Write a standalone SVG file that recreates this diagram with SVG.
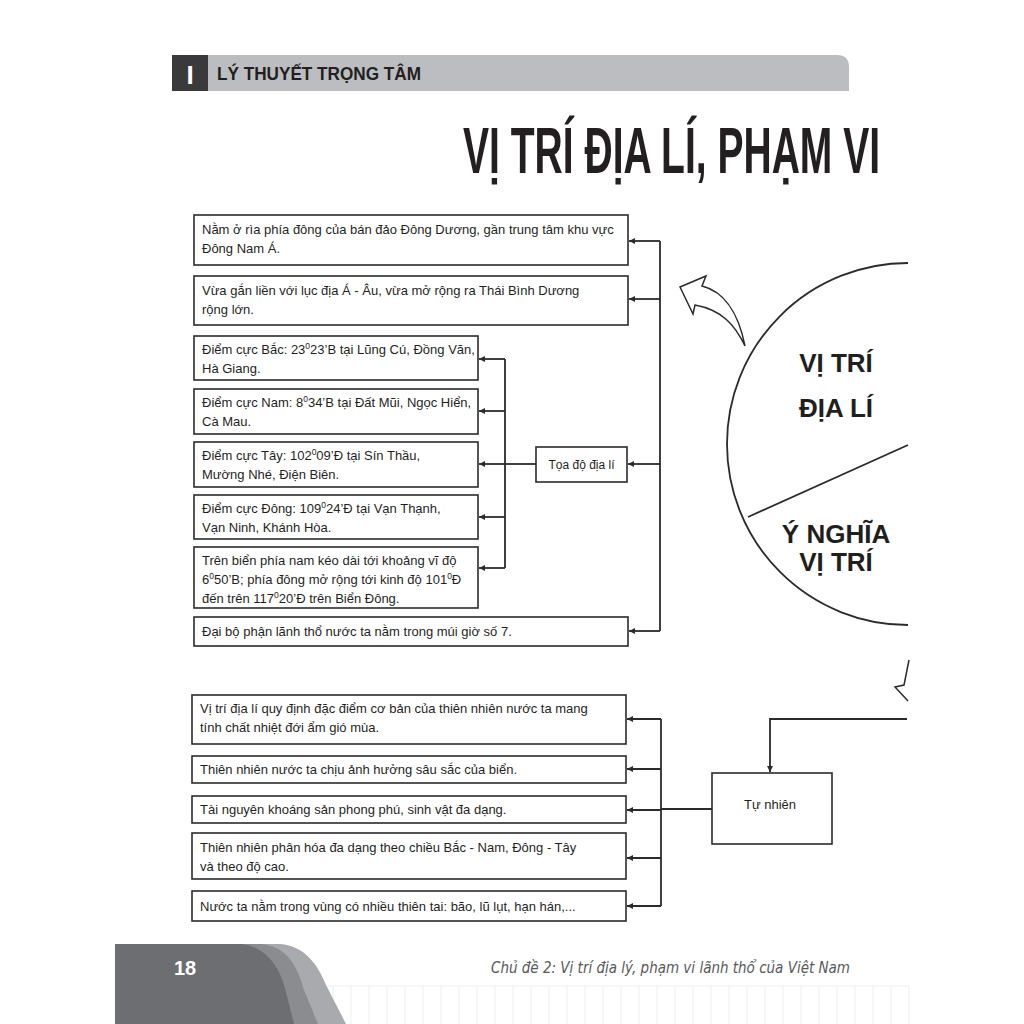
<svg xmlns="http://www.w3.org/2000/svg" width="1024" height="1024" viewBox="0 0 1024 1024">
<defs>
<style>
.box{fill:#fff;stroke:#2b2b2b;stroke-width:1.6}
.t{font-family:"Liberation Sans",Arial,sans-serif;font-size:13px;fill:#1f1f1f}
.c{fill:none;stroke:#2b2b2b;stroke-width:1.8}
.a{fill:none;stroke:#2b2b2b;stroke-width:1.8;marker-end:url(#ah)}
.big{font-family:"Liberation Sans",Arial,sans-serif;font-weight:bold;font-size:26px;fill:#1f1f1f;text-anchor:middle}
.sup{font-size:8.5px}
.grid{stroke:#efefef;stroke-width:1}
</style>
<marker id="ah" markerUnits="userSpaceOnUse" markerWidth="7" markerHeight="7" refX="6" refY="3" orient="auto">
<path d="M0,0 L6,3 L0,6 Z" fill="#2b2b2b"/>
</marker>
<pattern id="vl" x="0" y="0" width="18" height="40" patternUnits="userSpaceOnUse">
<line x1="9" y1="0" x2="9" y2="40" class="grid"/>
</pattern>
</defs>
<rect width="1024" height="1024" fill="#fff"/>

<g id="header">
<path d="M207,55 H837 Q849,55 849,67 V91 H207 Z" fill="#bcbdc0"/>
<rect x="172" y="55" width="36" height="36" fill="#3a3a3c"/>
<text x="190" y="84" font-family="Liberation Sans,Arial,sans-serif" font-weight="bold" font-size="26" fill="#fff" text-anchor="middle">I</text>
<text x="217" y="80" font-family="Liberation Sans,Arial,sans-serif" font-weight="bold" font-size="19" fill="#231f20" textLength="204" lengthAdjust="spacingAndGlyphs">LÝ THUYẾT TRỌNG TÂM</text>
</g>

<g id="title">
<text transform="translate(463,173) scale(0.61,1)" x="0" y="0" font-family="Liberation Sans,Arial,sans-serif" font-weight="bold" font-size="64" fill="#231f20">VỊ TRÍ ĐỊA LÍ, PHẠM VI</text>
</g>

<g id="circle">
<path d="M908,263 A181,181 0 0 0 908,625" class="c"/>
<line x1="748" y1="517" x2="908" y2="445" class="c"/>
<text class="big" x="836" y="372">VỊ TRÍ</text>
<text class="big" x="836" y="417">ĐỊA LÍ</text>
<text class="big" x="836" y="543">Ý NGHĨA</text>
<text class="big" x="836" y="571">VỊ TRÍ</text>
</g>

<g id="curved-arrow">
<path d="M680,287 L706,276 L702,286 C722,291 738,310 745,346 C735,325 722,310 695,305 L693,314 Z" fill="#fff" stroke="#2b2b2b" stroke-width="1.5" stroke-linejoin="miter"/>
<polyline points="909,660 904,685 895,687 908,701" fill="none" stroke="#2b2b2b" stroke-width="1.5"/>
</g>

<g id="n1"><rect class="box" x="194" y="215" width="434" height="50"/>
<text class="t" x="202" y="234">Nằm ở rìa phía đông của bán đảo Đông Dương, gần trung tâm khu vực</text>
<text class="t" x="202" y="253">Đông Nam Á.</text></g>

<g id="n2"><rect class="box" x="194" y="276" width="434" height="49"/>
<text class="t" x="202" y="295">Vừa gắn liền với lục địa Á - Âu, vừa mở rộng ra Thái Bình Dương</text>
<text class="t" x="202" y="314">rộng lớn.</text></g>

<g id="n3"><rect class="box" x="194" y="336" width="284" height="44"/>
<text class="t" x="202" y="354">Điểm cực Bắc: 23<tspan class="sup" baseline-shift="super">0</tspan>23’B tại Lũng Cú, Đồng Văn,</text>
<text class="t" x="202" y="373">Hà Giang.</text></g>

<g id="n4"><rect class="box" x="194" y="389" width="284" height="45"/>
<text class="t" x="202" y="407">Điểm cực Nam: 8<tspan class="sup" baseline-shift="super">0</tspan>34’B tại Đất Mũi, Ngọc Hiển,</text>
<text class="t" x="202" y="426">Cà Mau.</text></g>

<g id="n5"><rect class="box" x="194" y="442" width="284" height="45"/>
<text class="t" x="202" y="460">Điểm cực Tây: 102<tspan class="sup" baseline-shift="super">0</tspan>09’Đ tại Sín Thầu,</text>
<text class="t" x="202" y="479">Mường Nhé, Điện Biên.</text></g>

<g id="n6"><rect class="box" x="194" y="495" width="284" height="44"/>
<text class="t" x="202" y="513">Điểm cực Đông: 109<tspan class="sup" baseline-shift="super">0</tspan>24’Đ tại Vạn Thạnh,</text>
<text class="t" x="202" y="532">Vạn Ninh, Khánh Hòa.</text></g>

<g id="n7"><rect class="box" x="194" y="547" width="284" height="61"/>
<text class="t" x="202" y="565">Trên biển phía nam kéo dài tới khoảng vĩ độ</text>
<text class="t" x="202" y="584">6<tspan class="sup" baseline-shift="super">0</tspan>50’B; phía đông mở rộng tới kinh độ 101<tspan class="sup" baseline-shift="super">0</tspan>Đ</text>
<text class="t" x="202" y="603">đến trên 117<tspan class="sup" baseline-shift="super">0</tspan>20’Đ trên Biển Đông.</text></g>

<g id="n8"><rect class="box" x="194" y="617" width="434" height="29"/>
<text class="t" x="202" y="636">Đại bộ phận lãnh thổ nước ta nằm trong múi giờ số 7.</text></g>

<g id="toado"><rect class="box" x="536" y="447" width="91" height="35"/>
<text class="t" x="581.5" y="469" text-anchor="middle" style="font-size:12px">Tọa độ địa lí</text></g>

<g id="m1"><rect class="box" x="192" y="695" width="434" height="49"/>
<text class="t" x="200" y="713">Vị trí địa lí quy định đặc điểm cơ bản của thiên nhiên nước ta mang</text>
<text class="t" x="200" y="732">tính chất nhiệt đới ẩm gió mùa.</text></g>

<g id="m2"><rect class="box" x="192" y="756" width="434" height="27"/>
<text class="t" x="200" y="774">Thiên nhiên nước ta chịu ảnh hưởng sâu sắc của biển.</text></g>

<g id="m3"><rect class="box" x="192" y="796" width="434" height="27"/>
<text class="t" x="200" y="814">Tài nguyên khoáng sản phong phú, sinh vật đa dạng.</text></g>

<g id="m4"><rect class="box" x="192" y="833" width="434" height="46"/>
<text class="t" x="200" y="852">Thiên nhiên phân hóa đa dạng theo chiều Bắc - Nam, Đông - Tây</text>
<text class="t" x="200" y="871">và theo độ cao.</text></g>

<g id="m5"><rect class="box" x="192" y="891" width="434" height="30"/>
<text class="t" x="200" y="911">Nước ta nằm trong vùng có nhiều thiên tai: bão, lũ lụt, hạn hán,...</text></g>

<g id="tunhien"><rect class="box" x="712" y="773" width="120" height="71"/>
<text class="t" x="770" y="809" text-anchor="middle">Tự nhiên</text></g>

<g id="connectors">
<line class="c" x1="660" y1="241" x2="660" y2="631"/>
<line class="a" x1="660" y1="241" x2="629" y2="241"/>
<line class="a" x1="660" y1="299" x2="629" y2="299"/>
<line class="a" x1="660" y1="464" x2="628" y2="464"/>
<line class="a" x1="660" y1="631" x2="629" y2="631"/>
<line class="c" x1="536" y1="464" x2="505" y2="464"/>
<line class="c" x1="505" y1="359" x2="505" y2="568"/>
<line class="a" x1="505" y1="359" x2="479" y2="359"/>
<line class="a" x1="505" y1="411" x2="479" y2="411"/>
<line class="a" x1="505" y1="464" x2="479" y2="464"/>
<line class="a" x1="505" y1="517" x2="479" y2="517"/>
<line class="a" x1="505" y1="568" x2="479" y2="568"/>
<polyline class="a" points="907,719 770,719 770,772"/>
<line class="c" x1="712" y1="809" x2="661" y2="809"/>
<line class="c" x1="661" y1="719" x2="661" y2="906"/>
<line class="a" x1="661" y1="719" x2="627" y2="719"/>
<line class="a" x1="661" y1="769" x2="627" y2="769"/>
<line class="a" x1="661" y1="810" x2="627" y2="810"/>
<line class="a" x1="661" y1="858" x2="627" y2="858"/>
<line class="a" x1="661" y1="906" x2="627" y2="906"/>
</g>

<g id="footer">
<rect x="300" y="986" width="610" height="38" fill="url(#vl)"/>
<line x1="300" y1="986" x2="910" y2="986" class="grid"/>
<path d="M115,944 H280 C305,946 318,965 326,985 L346,1024 H115 Z" fill="#a8aaad"/>
<path d="M115,944 H262 C288,947 298,968 304,990 L318,1024 H115 Z" fill="#8b8c8f"/>
<path d="M115,944 H242 C272,948 283,975 288,1000 L294,1024 H115 Z" fill="#6d6e71"/>
<text x="174" y="975" font-family="Liberation Sans,Arial,sans-serif" font-weight="bold" font-size="20" fill="#fff">18</text>
<text x="491" y="973" font-family="DejaVu Sans,Liberation Sans,sans-serif" font-style="italic" font-size="15" fill="#58595b" textLength="359" lengthAdjust="spacingAndGlyphs">Chủ đề 2: Vị trí địa lý, phạm vi lãnh thổ của Việt Nam</text>
</g>
</svg>
